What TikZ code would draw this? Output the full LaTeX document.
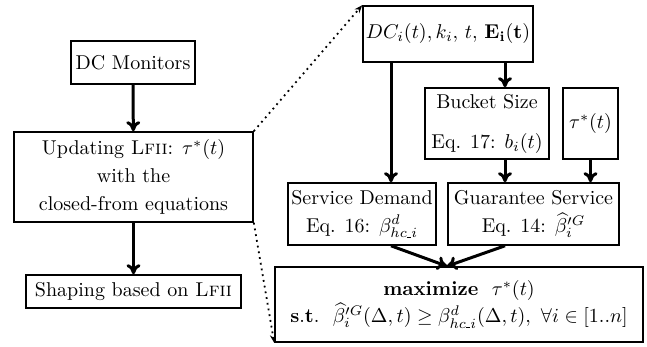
\documentclass[tikz,border=0pt]{standalone}
\usetikzlibrary{arrows.meta}
\newcommand{\hcsub}{hc\mbox{\rule{2.2pt}{0.55pt}}i}
\begin{document}
\begin{tikzpicture}[x=0.5pt,y=-0.5pt,
  box/.style={draw,line width=0.8pt,inner sep=0pt,align=center,minimum width=#1},
  arr/.style={line width=1.5pt,-{To[length=5pt,width=7pt]}},
  darr/.style={line width=0.9pt,dotted,-{Stealth[length=4pt,width=3pt]}}]
\useasboundingbox (0,0) rectangle (647,347);
\node[box=62pt,minimum height=21.5pt] (mon) at (133,62.5) {DC Monitors};
\node[box=119.5pt,minimum height=45pt] (upd) at (133.5,177) {Updating \textsc{Lfii}: $\tau^*(t)$\\[2pt] with the\\[2pt] closed-from equations};
\node[box=107.5pt,minimum height=16.5pt] (shp) at (133.5,291.5) {Shaping based on \textsc{Lfii}};
\node[box=85pt,minimum height=28pt] (dc) at (448,34) {$DC_i(t), k_i,\, t,\, \mathbf{E_i(t)}$};
\node[box=62pt,minimum height=35.5pt] (bkt) at (487,123.5) {Bucket Size\\[8pt] Eq. 17: $b_i(t)$};
\node[box=27.5pt,minimum height=35.5pt] (tau) at (590.5,123.5) {$\tau^*(t)$};
\node[box=74pt,minimum height=31pt] (sd) at (362,214) {Service Demand\\[2pt] Eq. 16: $\beta^d_{\hcsub}$};
\node[box=85.5pt,minimum height=31pt] (gs) at (533.5,214) {Guarantee Service\\[2pt] Eq. 14: $\widehat{\beta}^{\prime G}_i$};
\node[box=184pt,minimum height=37.5pt] (mx) at (459,304.5) {$\mathbf{maximize}\ \ \tau^*(t)$\\[0pt] $\mathbf{s.t.}\ \ \widehat{\beta}^{\prime G}_i(\Delta,t) \ge \beta^d_{\hcsub}(\Delta,t),\ \forall i\in[1..n]$};
\coordinate (xa) at (391,0);
\coordinate (xb) at (505,0);
\coordinate (top) at (447,267);
\draw[arr] (mon) -- (upd);
\draw[arr] (upd) -- (shp);
\draw[arr] (dc.south -| xa) -- (sd.north -| xa);
\draw[arr] (dc.south -| xb) -- (bkt.north -| xb);
\draw[arr] (bkt.south -| xb) -- (gs.north -| xb);
\draw[arr] (tau.south) -- (gs.north -| tau.south);
\draw[arr] (sd.south -| xa) -- (mx.north -| top);
\draw[arr] (gs.south -| xb) -- (mx.north -| top);
\draw[darr] (upd.north east) -- (dc.north west);
\draw[darr] (upd.south east) -- (mx.south west);
\end{tikzpicture}
\end{document}
